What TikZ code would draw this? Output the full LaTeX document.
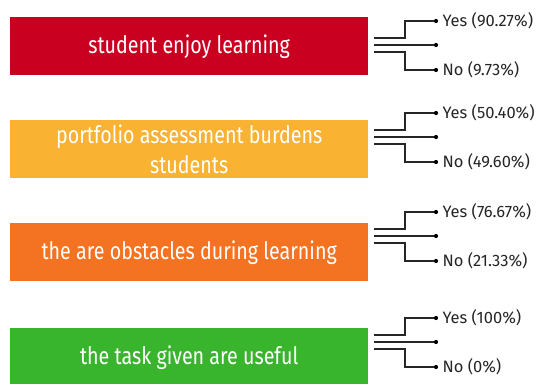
\documentclass[tikz,border=0pt]{standalone}
\usepackage{fontspec}
\setmainfont{Fira Sans}
\newfontfamily\boxfont{Fira Sans}[FakeStretch=0.82]
\usetikzlibrary{positioning,calc}

\definecolor{enjoyred}{HTML}{CA0020}
\definecolor{burdenyellow}{HTML}{F9B232}
\definecolor{obstacleorange}{HTML}{F47322}
\definecolor{usefulgreen}{HTML}{39B52D}

\tikzset{
  qbox/.style={rectangle, inner sep=0pt, minimum width=358, minimum height=58,
    anchor=north west, align=center, text=white,
    font=\boxfont\fontsize{24}{30}\selectfont},
  fork/.style={line width=1.4, draw=black!85},
  tipdot/.style={circle, fill=black, inner sep=0pt, minimum size=4.2},
  answer/.style={right=4 of #1, inner sep=0pt, font=\fontsize{16.5}{19}\selectfont, text=black!85}
}

\begin{document}
\begin{tikzpicture}[x=1pt, y=-1pt]
    \useasboundingbox (0,0) rectangle (538,383);

    % question boxes
    \node[qbox, fill=enjoyred] (q1) at (10,17) {student enjoy learning};
    \node[qbox, fill=burdenyellow] (q2) at (10,120) {portfolio assessment burdens\\students};
    \node[qbox, fill=obstacleorange] (q3) at (10,223) {the are obstacles during learning};
    \node[qbox, fill=usefulgreen] (q4) at (10,328) {the task given are useful};

    % forks: row / middle y / yes / no
    \foreach \r/\m/\yes/\no in {1/45/Yes (90.27\%)/No (9.73\%),
                                2/137/Yes (50.40\%)/No (49.60\%),
                                3/236/Yes (76.67\%)/No (21.33\%),
                                4/342/Yes (100\%)/No (0\%)} {
        \coordinate (s\r) at (374,\m);
        \node[tipdot] (y\r) at (436,\m-24) {};
        \node[tipdot] (m\r) at (436,\m) {};
        \node[tipdot] (n\r) at (436,\m+25) {};
        \draw[fork] ($(s\r)+(0,-7)$) -- ++(31,0) |- (y\r);
        \draw[fork] (s\r) -- (m\r);
        \draw[fork] ($(s\r)+(0,7)$) -- ++(31,0) |- (n\r);
        \node[answer=y\r] (ya\r) {\yes};
        \node[answer=n\r] (na\r) {\no};
    }
\end{tikzpicture}
\end{document}
